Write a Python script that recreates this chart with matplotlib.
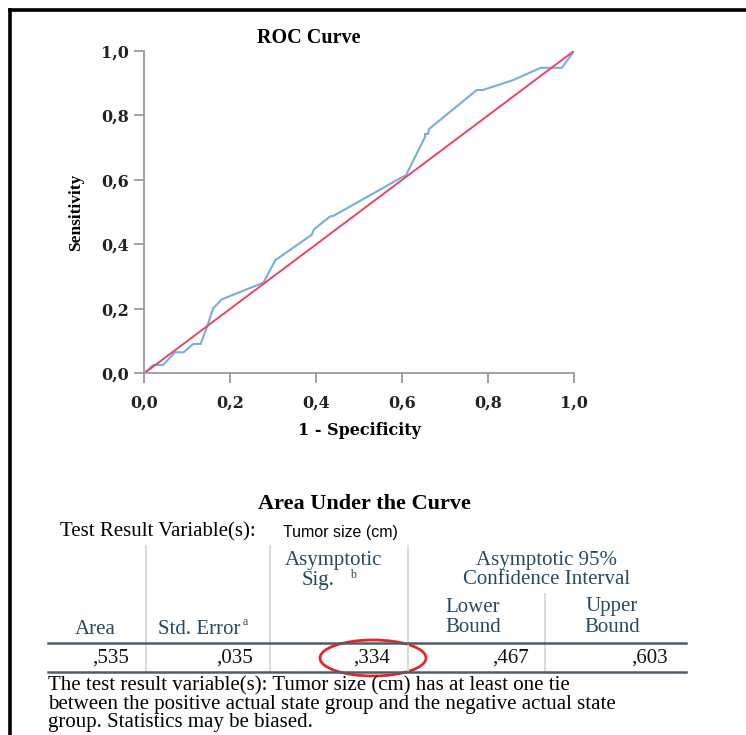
import matplotlib
matplotlib.use("Agg")
import matplotlib.pyplot as plt
from matplotlib.lines import Line2D
from matplotlib.patches import Ellipse

# ROC curve points (1 - specificity, sensitivity)
fpr = [0.000, 0.021, 0.044, 0.071, 0.091, 0.114, 0.131, 0.147, 0.160, 0.180,
       0.277, 0.305, 0.389, 0.395, 0.432, 0.440, 0.602, 0.608, 0.653, 0.653,
       0.660, 0.662, 0.773, 0.787, 0.858, 0.922, 0.971, 1.000]
tpr = [0.000, 0.026, 0.026, 0.065, 0.065, 0.091, 0.091, 0.148, 0.201, 0.229,
       0.281, 0.351, 0.429, 0.447, 0.486, 0.488, 0.610, 0.612, 0.733, 0.742,
       0.742, 0.757, 0.878, 0.878, 0.909, 0.947, 0.947, 1.000]
ref_line = [0.0, 1.0]
ticks = [0.0, 0.2, 0.4, 0.6, 0.8, 1.0]
tick_labels = ["0,0", "0,2", "0,4", "0,6", "0,8", "1,0"]

# Area Under the Curve table
test_variable = "Tumor size (cm)"
auc_values = [0.535, 0.035, 0.334, 0.467, 0.603]
footnote = ["The test result variable(s): Tumor size (cm) has at least one tie",
            "between the positive actual state group and the negative actual state",
            "group. Statistics may be biased."]

W, H = 746, 735
fig = plt.figure(figsize=(W / 100, H / 100), dpi=100)
fig.patch.set_facecolor("white")


def fx(x):
    return x / W


def fy(y):
    return 1 - y / H


# outer frame (left and top edges)
fig.add_artist(Line2D([fx(10), fx(10)], [fy(10), 0], color="black", lw=2.6,
                      transform=fig.transFigure))
fig.add_artist(Line2D([fx(10), 1], [fy(10), fy(10)], color="black", lw=2.6,
                      transform=fig.transFigure))

# ---- ROC plot ----
ax = fig.add_axes([fx(144.3), fy(373.3), (574.3 - 144.3) / W, (373.3 - 50.7) / H])
ax.plot(fpr, tpr, color="#78ace0", lw=1.5, solid_joinstyle="miter")
ax.plot(ref_line, ref_line, color="#ea4561", lw=1.4)
ax.set_xlim(0, 1)
ax.set_ylim(0, 1)
ax.set_xticks(ticks)
ax.set_yticks(ticks)
ax.set_xticklabels(tick_labels)
ax.set_yticklabels(tick_labels)
for s in ("top", "right"):
    ax.spines[s].set_visible(False)
for s in ("left", "bottom"):
    ax.spines[s].set_color("#9a9a9a")
    ax.spines[s].set_linewidth(1.3)
ax.tick_params(axis="both", direction="out", length=7, width=1.3, color="#9a9a9a")
ax.tick_params(axis="x", pad=8)
ax.tick_params(axis="y", pad=4)
for lab in ax.get_xticklabels() + ax.get_yticklabels():
    lab.set_fontfamily("DejaVu Serif")
    lab.set_fontweight("bold")
    lab.set_fontsize(11.5)
    lab.set_color("#222222")
ax.set_xlabel("1 - Specificity", fontfamily="DejaVu Serif", fontweight="bold",
              fontsize=11.5, labelpad=8)
ax.set_ylabel("Sensitivity", fontfamily="Liberation Serif", fontweight="bold",
              fontsize=12.5, labelpad=12)
fig.text(fx(309), fy(38), "ROC Curve", family="Liberation Serif", weight="bold",
         fontsize=14.5, ha="center", va="center")

# ---- AUC table ----
serif = "Liberation Serif"
head_col = "#264a60"
tsize = 15

fig.text(fx(364), fy(504), "Area Under the Curve", family=serif, weight="bold",
         fontsize=16, ha="center", va="center")
fig.text(fx(60), fy(532), "Test Result Variable(s):", family=serif,
         fontsize=tsize, ha="left", va="center")
fig.text(fx(283), fy(533), test_variable, family="Liberation Sans",
         fontsize=11.5, ha="left", va="center")

# grid lines
line_col = "#dadada"
for x in (146, 270, 408):
    fig.add_artist(Line2D([fx(x), fx(x)], [fy(546), fy(672)], color=line_col,
                          lw=1.4, transform=fig.transFigure))
fig.add_artist(Line2D([fx(545), fx(545)], [fy(594), fy(672)], color=line_col,
                      lw=1.4, transform=fig.transFigure))
for y in (643, 672):
    fig.add_artist(Line2D([fx(48), fx(686)], [fy(y), fy(y)], color="#4e5d68",
                          lw=1.8, transform=fig.transFigure))

# header labels
fig.text(fx(95.5), fy(629), "Area", family=serif, fontsize=tsize, color=head_col,
         ha="center", va="center")
fig.text(fx(199), fy(629), "Std. Error", family=serif, fontsize=tsize, color=head_col,
         ha="center", va="center")
fig.text(fx(243), fy(622), "a", family=serif, fontsize=8.5, color=head_col,
         ha="left", va="center")
fig.text(fx(333), fy(560), "Asymptotic", family=serif, fontsize=tsize, color=head_col,
         ha="center", va="center")
fig.text(fx(318), fy(580), "Sig.", family=serif, fontsize=tsize, color=head_col,
         ha="center", va="center")
fig.text(fx(350), fy(575), "b", family=serif, fontsize=8.5, color=head_col,
         ha="left", va="center")
fig.text(fx(547), fy(560), "Asymptotic 95%", family=serif, fontsize=tsize,
         color=head_col, ha="center", va="center")
fig.text(fx(547), fy(580), "Confidence Interval", family=serif, fontsize=tsize,
         color=head_col, ha="center", va="center")
fig.text(fx(473), fy(607), "Lower", family=serif, fontsize=tsize, color=head_col,
         ha="center", va="center")
fig.text(fx(473), fy(627), "Bound", family=serif, fontsize=tsize, color=head_col,
         ha="center", va="center")
fig.text(fx(612), fy(607), "Upper", family=serif, fontsize=tsize, color=head_col,
         ha="center", va="center")
fig.text(fx(612), fy(627), "Bound", family=serif, fontsize=tsize, color=head_col,
         ha="center", va="center")

# value row (right aligned in each column)
right_edges = [129, 253, 390, 529, 668]
for v, xr in zip(auc_values, right_edges):
    fig.text(fx(xr), fy(658), f"{v:.3f}".replace("0.", ","), family=serif,
             fontsize=tsize, ha="right", va="center", color="#111111")

# highlight around the significance value
fig.add_artist(Ellipse((fx(373), fy(658)), 106 / W, 36 / H, fill=False,
                       edgecolor="#e0282c", lw=2.0, transform=fig.transFigure))

for i, line in enumerate(footnote):
    fig.text(fx(48), fy(686 + 18.5 * i), line, family=serif, fontsize=tsize,
             ha="left", va="center")

fig.savefig("out.png", dpi=100, facecolor="white")
